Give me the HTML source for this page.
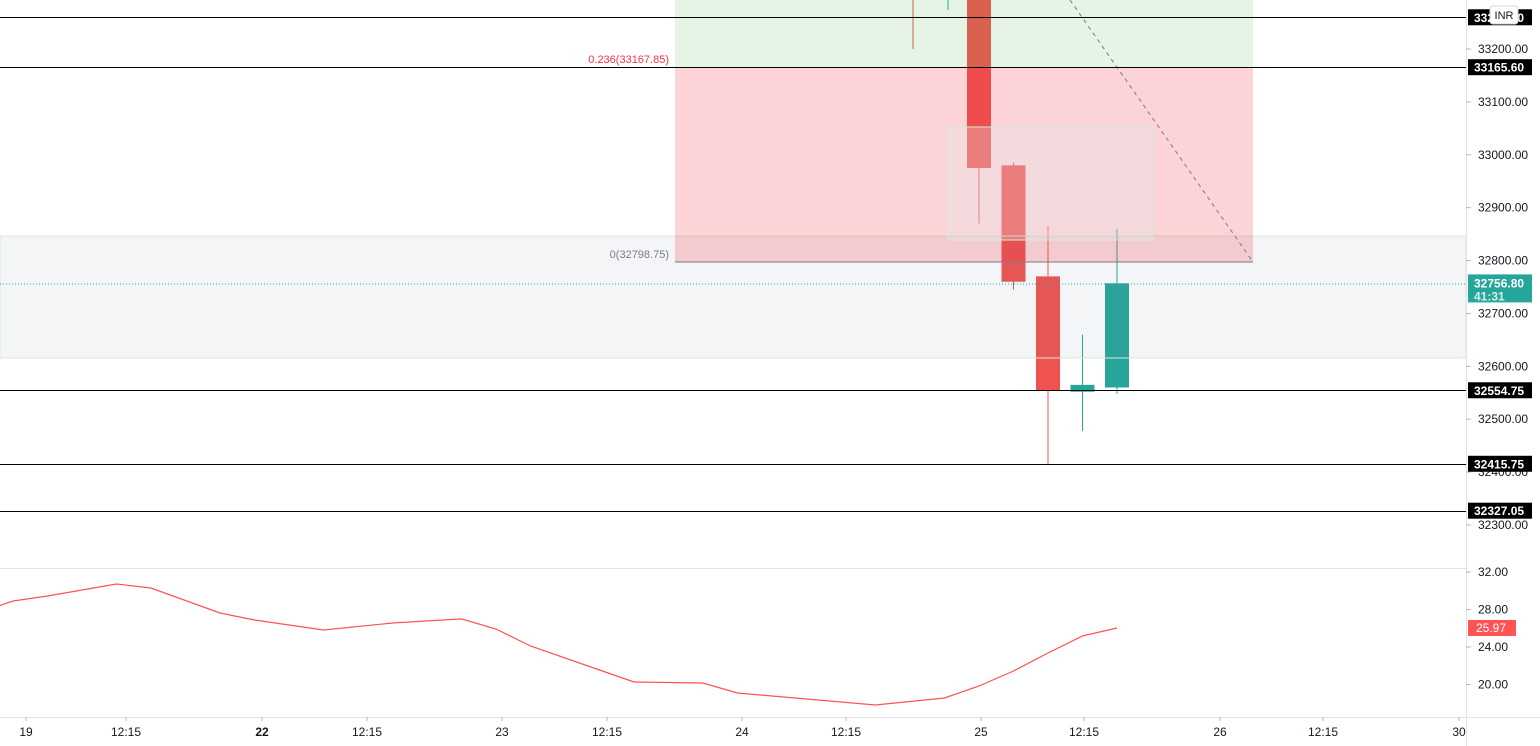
<!DOCTYPE html>
<html><head><meta charset="utf-8"><style>
html,body{margin:0;padding:0;background:#fff;}
svg{display:block;font-family:"Liberation Sans",sans-serif;}
</style></head><body>
<svg id="chart" width="1540" height="746" xmlns="http://www.w3.org/2000/svg">
<rect width="1540" height="746" fill="#fff"/>
<g id="candles"></g>
<g id="zones"></g>
<g id="osc"></g>
<g id="axes"></g>
</svg>
<script>
const NS="http://www.w3.org/2000/svg";
// ---- data ----
const candleSlots=[0,1,2,3,4];          // slots from right (0 = latest)
const candleOpen=[32560,32552,32770,32980,33400];
const candleClose=[32757,32565,32555,32760,32975];
const candleHigh=[32860,32660,32865,32985,33420];
const candleLow=[32548,32478,32415,32745,32870];
const priceTicks=[33200,33100,33000,32900,32800,32700,32600,32500,32400,32300];
const hLevels=[33260.00,33165.60,32554.75,32415.75,32327.05];
const oscSlots=[33,32,31,29,28,26,25,23,21,19,18,17,15,14,12,11,9,7,5,4,3,2,1,0];
const oscValues=[27.63,28.91,29.44,30.72,30.29,27.63,26.88,25.81,26.56,27.0,25.92,24.11,21.55,20.27,20.16,19.09,18.45,17.81,18.56,19.84,21.44,23.36,25.17,26.03];
const oscTicks=[32,28,24,20];
const timeLabels=["19","12:15","22","12:15","23","12:15","24","12:15","25","12:15","26","12:15","30"];
const timeX=[26,126,262,367,502,607,742,846,981,1084,1220,1323,1459];
const timeBold=[false,false,true,false,false,false,false,false,false,false,false,false,false];
// ---- scales ----
const py=p=>49+(33200-p)*0.52889;
const sx=k=>1117-34.5*k;
const oy=v=>572+(32-v)*9.375;
function el(tag,attrs,parent,text){const e=document.createElementNS(NS,tag);for(const k in attrs)e.setAttribute(k,attrs[k]);if(text!==undefined)e.textContent=text;parent.appendChild(e);return e;}
const Z=document.getElementById('zones'),C=document.getElementById('candles'),O=document.getElementById('osc'),A=document.getElementById('axes');
// small early wicks
el('line',{x1:913,y1:0,x2:913,y2:49,stroke:'#ef5350'},C);
el('line',{x1:948,y1:0,x2:948,y2:10,stroke:'#26a69a'},C);
// candles
candleSlots.forEach((k,i)=>{
  const x=sx(k),up=candleClose[i]>=candleOpen[i],col=up?'#26a69a':'#ef5350';
  const g=el('g',{},C);
  
  
  el('line',{x1:x,y1:py(candleHigh[i]),x2:x,y2:py(candleLow[i]),stroke:col},g);
  const t=py(Math.max(candleOpen[i],candleClose[i])),b=py(Math.min(candleOpen[i],candleClose[i]));
  el('rect',{x:x-12,y:t,width:24,height:Math.max(2,b-t),fill:col},g);
});
// zones (semi-transparent, drawn over candles)
let r;
r=el('rect',{x:0,y:236,width:1466,height:122,fill:'rgba(120,123,150,0.08)',stroke:'#d4ecd4'},Z);


r=el('rect',{x:675,y:0,width:578,height:68,fill:'rgba(76,175,80,0.14)'},Z);


r=el('rect',{x:675,y:68,width:578,height:194,fill:'rgba(242,54,69,0.22)'},Z);


r=el('rect',{x:948,y:127,width:205,height:113,fill:'rgba(225,235,235,0.3)',stroke:'#d4ecd4'},Z);


r=el('line',{x1:675,y1:262,x2:1253,y2:262,stroke:'#787b86','stroke-width':1},Z);


r=el('text',{x:669,y:258,'font-size':11,fill:'#787b86','text-anchor':'end'},Z,'0(32798.75)');


r=el('text',{x:669,y:63,'font-size':11,fill:'#f23645','text-anchor':'end'},Z,'0.236(33167.85)');


r=el('line',{x1:1070,y1:0,x2:1253,y2:262,stroke:'#787b86','stroke-width':1,'stroke-dasharray':'4 4'},Z);


r=el('line',{x1:0,y1:284,x2:1466,y2:284,stroke:'#26a69a','stroke-width':1,'stroke-dasharray':'1 2'},Z);


// horizontal levels
hLevels.forEach((v,i)=>{
  const y=Math.round(py(v))+0.5;
  const l=el('line',{x1:0,y1:y,x2:1466,y2:y,stroke:'#000','stroke-width':1},A);
  
  
});
// axes
el('line',{x1:1466.5,y1:0,x2:1466.5,y2:746,stroke:'#e0e3eb'},A);
el('line',{x1:0,y1:568.5,x2:1466,y2:568.5,stroke:'#e0e3eb'},A);
el('line',{x1:0,y1:717.5,x2:1540,y2:717.5,stroke:'#e0e3eb'},A);
priceTicks.forEach(v=>{const y=py(v);el('line',{x1:1466,y1:y,x2:1471,y2:y,stroke:'#b2b5be'},A);
  const t=el('text',{x:1478,y:y+4,'font-size':12,fill:'#131722'},A,v.toFixed(2));
  
  });
hLevels.forEach(v=>{const y=py(v);
  el('rect',{x:1468,y:y-8,width:64,height:16,fill:'#000'},A);
  const t=el('text',{x:1474,y:y+4.5,'font-size':12,'font-weight':'bold',fill:'#fff'},A,v.toFixed(2));
  
  });
el('rect',{x:1490,y:6,width:28,height:18,rx:3,fill:'#fff',stroke:'#d1d4dc'},A);
let t=el('text',{x:1504,y:19,'font-size':11,fill:'#131722','text-anchor':'middle'},A,'INR');


el('rect',{x:1468,y:py(32756.8)-9,width:64,height:28,fill:'#26a69a'},A);
t=el('text',{x:1474,y:py(32756.8)+4,'font-size':12,'font-weight':'bold',fill:'#fff'},A,'32756.80');


t=el('text',{x:1474,y:py(32756.8)+17,'font-size':12,'font-weight':'bold',fill:'#d6f0ec'},A,'41:31');


// oscillator
oscTicks.forEach(v=>{const y=oy(v);el('line',{x1:1466,y1:y,x2:1471,y2:y,stroke:'#b2b5be'},A);
  const tt=el('text',{x:1478,y:y+4,'font-size':12,fill:'#131722'},A,v.toFixed(2));
  
  });
const pts=oscSlots.map((k,i)=>sx(k).toFixed(1)+','+oy(oscValues[i]).toFixed(1)).join(' ');
const pl=el('polyline',{points:pts,fill:'none',stroke:'#ff5252','stroke-width':1.2},O);


const lv=oscValues[oscValues.length-1];
el('rect',{x:1468,y:oy(lv)-8,width:48,height:16,fill:'#ff5252'},A);
t=el('text',{x:1476,y:oy(lv)+4,'font-size':12,fill:'#fff'},A,'25.97');


// time axis
timeLabels.forEach((s,i)=>{el('line',{x1:timeX[i],y1:717,x2:timeX[i],y2:721,stroke:'#b2b5be'},A);
  const tt=el('text',{x:timeX[i],y:736,'font-size':12,fill:'#131722','text-anchor':'middle','font-weight':timeBold[i]?'bold':'normal'},A,s);
  
  });
</script>
</body></html>
